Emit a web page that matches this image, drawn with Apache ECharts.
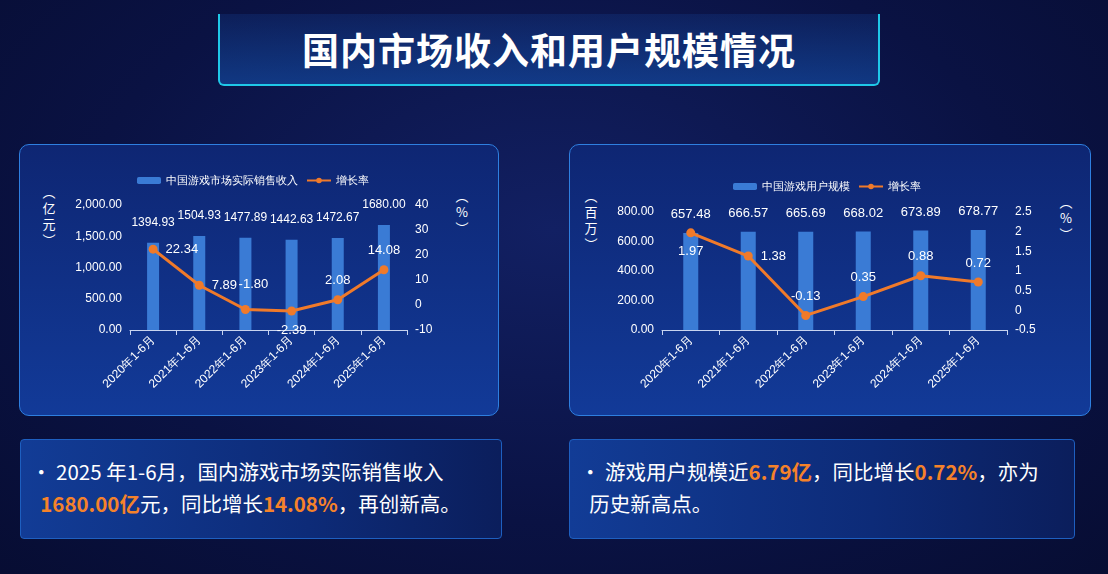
<!DOCTYPE html>
<html><head><meta charset="utf-8">
<script src="https://cdn.jsdelivr.net/npm/echarts@6/dist/echarts.min.js"></script>
<style>
body{margin:0;width:1108px;height:574px;overflow:hidden;background:radial-gradient(ellipse at 50% 40%,#122063 0%,#0a1243 60%,#070d33 100%);font-family:"Noto Sans CJK SC",sans-serif;position:relative}
.abs{position:absolute}
.title{left:218px;top:14px;width:662px;height:72px;border:2px solid #1fc8e8;border-top:none;border-radius:0 0 6px 6px;background:linear-gradient(180deg,rgba(20,60,140,0.3),rgba(20,80,170,0.6));box-sizing:border-box}
.title span{position:absolute;left:0;right:0;top:8px;text-align:center;color:#fff;font-size:37px;font-weight:bold;letter-spacing:1px}
.panel{border:1.5px solid #2e7fe0;border-radius:10px;background:linear-gradient(180deg,#0e2673 0%,#123a98 100%);box-sizing:border-box}
.box{border:1px solid #1e5fc0;border-radius:4px;background:linear-gradient(90deg,#123c96 0%,#0d2b78 60%,#0b1e5c 100%);box-sizing:border-box;color:#fff;font-size:20.5px;line-height:32px;padding:15px 0 0 10px;white-space:nowrap}
.o{color:#f5822a;font-weight:bold}
.vn{color:#fff;font-size:13px;line-height:16px;text-align:center;width:16px}
#c{position:absolute;left:0;top:0;width:1108px;height:574px}
</style></head><body>
<div class="abs title"><span>国内市场收入和用户规模情况</span></div>
<div class="abs panel" style="left:19px;top:144px;width:480px;height:272px"></div>
<div class="abs panel" style="left:569px;top:144px;width:522px;height:272px"></div>
<div class="abs box" style="left:20px;top:439px;width:482px;height:100px">• 2025 年1-6月，国内游戏市场实际销售收入<br>&nbsp;&nbsp;<span class="o">1680.00亿</span>元，同比增长<span class="o">14.08%</span>，再创新高。</div>
<div class="abs box" style="left:569px;top:439px;width:506px;height:100px">• 游戏用户规模近<span class="o">6.79亿</span>，同比增长<span class="o">0.72%</span>，亦为<br>&nbsp;&nbsp;历史新高点。</div>
<div class="abs vn" style="left:41px;top:184px">︵<br>亿<br>元<br>︶</div>
<div class="abs vn" style="left:454px;top:188px">︵<br>%<br>︶</div>
<div class="abs vn" style="left:583px;top:188px">︵<br>百<br>万<br>︶</div>
<div class="abs vn" style="left:1058px;top:194px">︵<br>%<br>︶</div>
<div id="c"></div>
<script>
const categories=['2020年1-6月','2021年1-6月','2022年1-6月','2023年1-6月','2024年1-6月','2025年1-6月'];
const revenue=[1394.93,1504.93,1477.89,1442.63,1472.67,1680.00];
const revenueGrowth=[22.34,7.89,-1.80,-2.39,2.08,14.08];
const users=[657.48,666.57,665.69,668.02,673.89,678.77];
const userGrowth=[1.97,1.38,-0.13,0.35,0.88,0.72];
const revPos=['right','right','top','bottom','top','top'];
const revOff=[[0,0],[0,0],[8,-6],[0,0],[0,0],[0,0]];
const userPos=['bottom','right','top','top','top','top'];
const W='#ffffff',BAR='#3a7bd5',ORG='#f07a2a';
const fmt2=v=>v.toFixed(2);
const chart=echarts.init(document.getElementById('c'));
function xAx(g){return {type:'category',gridIndex:g,data:categories,axisLine:{lineStyle:{color:'#c8d4f0'}},axisTick:{show:true,lineStyle:{color:'#c8d4f0'}},axisLabel:{color:W,rotate:45,fontSize:12,interval:0}};}
function yAx(g,min,max,iv,f){return {type:'value',gridIndex:g,min:min,max:max,interval:iv,splitLine:{show:false},axisLine:{show:false},axisTick:{show:false},axisLabel:{color:W,fontSize:12,formatter:f}};}
chart.setOption({
 legend:[
  {left:132,top:170,itemWidth:24,itemHeight:7,textStyle:{color:W,fontSize:11},data:['中国游戏市场实际销售收入','增长率']},
  {left:728,top:176,itemWidth:24,itemHeight:7,textStyle:{color:W,fontSize:11},data:['中国游戏用户规模',{name:'增长率 '}]}
 ],
 grid:[{left:130,top:205,width:277,height:125},{left:662,top:212,width:345,height:118}],
 xAxis:[xAx(0),xAx(1)],
 yAxis:[
  yAx(0,0,2000,500,v=>v.toLocaleString('en-US',{minimumFractionDigits:2})),
  yAx(0,-10,40,10,v=>v),
  yAx(1,0,800,200,v=>v.toFixed(2)),
  yAx(1,-0.5,2.5,0.5,v=>v)
 ],
 series:[
  {name:'中国游戏市场实际销售收入',type:'bar',xAxisIndex:0,yAxisIndex:0,barWidth:12,data:revenue,itemStyle:{color:BAR},label:{show:true,position:'top',distance:14,color:W,fontSize:12,formatter:p=>fmt2(p.value)}},
  {name:'增长率',type:'line',xAxisIndex:0,yAxisIndex:1,data:revenueGrowth.map((v,i)=>({value:v,label:{position:revPos[i],offset:revOff[i]}})),symbol:'circle',symbolSize:9,lineStyle:{color:ORG,width:3},itemStyle:{color:ORG},label:{show:true,color:W,fontSize:13,distance:8,formatter:p=>fmt2(p.value)}},
  {name:'中国游戏用户规模',type:'bar',xAxisIndex:1,yAxisIndex:2,barWidth:15,data:users,itemStyle:{color:BAR},label:{show:true,position:'top',distance:12,color:W,fontSize:13,formatter:p=>fmt2(p.value)}},
  {name:'增长率 ',type:'line',xAxisIndex:1,yAxisIndex:3,data:userGrowth.map((v,i)=>({value:v,label:{position:userPos[i]}})),symbol:'circle',symbolSize:9,lineStyle:{color:ORG,width:3},itemStyle:{color:ORG},label:{show:true,color:W,fontSize:13,distance:8,formatter:p=>p.value+''}}
 ]
});
</script></body></html>
